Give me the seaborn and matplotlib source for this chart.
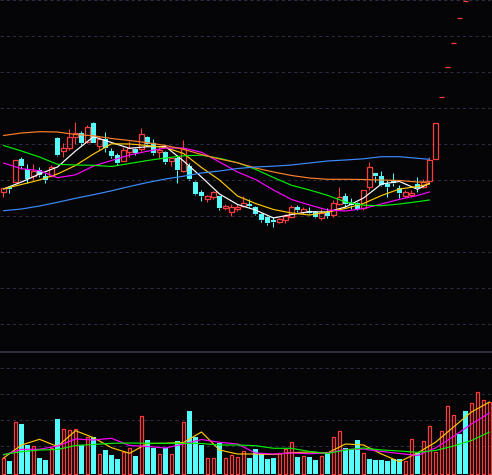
import pandas as pd
import matplotlib
matplotlib.use("Agg")
import matplotlib.pyplot as plt
import seaborn as sns

# daily candles (price in cents-like units), index = trading day
opens = [168, 173.5, 178, 201, 191, 184, 190, 184.5, 184, 222,
         209.5, 212, 223.3, 226.7, 217.7, 237, 214.5, 221, 209, 205,
         199.3, 208.5, 211.3, 211.5, 223, 217, 207.7, 208, 199.3, 202,
         189, 194, 178, 168, 161, 163, 164, 152, 148, 151,
         154, 156, 153, 146, 143, 140.5, 138.5, 140, 143, 153,
         148.5, 149.5, 148, 142, 148.5, 145, 156, 164, 157, 157,
         152, 173, 187, 184, 176, 180, 172, 164, 165, 176,
         173, 179, 201, 263, 293, 317, 342, 359.5, 386, 412,
         440, 468]
highs = [172, 174.5, 200, 203, 196, 196, 193, 187, 195, 223,
         217, 231.5, 238, 229, 235, 238.3, 224, 228, 212.3, 207,
         213.3, 219.5, 212, 232, 224.5, 221, 213.5, 209.5, 203, 205,
         220, 197, 179, 170, 165, 169, 164, 156.5, 156, 156,
         164, 161.5, 154, 147, 144, 142.7, 142, 146, 155, 155,
         153.5, 153, 149, 151.5, 152, 160, 173, 167, 162, 158.5,
         170, 198, 187, 189, 180, 187, 175, 170, 170, 183,
         181, 203, 237, 263, 293, 317, 342, 359.5, 386, 412,
         440, 468]
lows = [163, 167, 178, 191, 177, 180, 183, 177, 184, 204,
        203.5, 210, 216, 215, 216.7, 216.7, 210, 208, 202.3, 195,
        199.3, 203.5, 205, 209.5, 214, 205, 202, 196.5, 194, 177,
        188.3, 180, 165, 159, 158, 161, 150, 150, 144, 149,
        153, 153, 145, 138, 135.5, 133.3, 137, 137.5, 142, 148,
        146.5, 146.5, 142.5, 140, 142.5, 143, 155, 153, 151, 150,
        150, 170, 178, 174, 163, 174, 162, 163, 163, 168,
        172, 178, 201, 263, 293, 317, 342, 359.5, 386, 412,
        440, 468]
closes = [172, 171, 200, 194, 181, 189, 185.5, 180, 193, 205,
          211.7, 223, 226.7, 217, 232.7, 217.3, 221.5, 212, 204.3, 196.7,
          210, 211.7, 207.3, 226, 216, 207.3, 210, 198, 202, 190,
          211, 181, 166, 164, 164, 168, 152, 154.5, 153, 153,
          157, 154, 146, 140, 137, 138.3, 141, 144.5, 153, 150,
          151, 147.3, 143.5, 147.5, 144.5, 157, 163, 156, 155, 151,
          170, 193, 184, 175, 173, 177, 167, 168, 167, 172,
          178, 200, 237, 263, 293, 317, 342, 359.5, 386, 412,
          440, 468]

volumes = [15.7, 13, 51.7, 50, 29, 27.7, 16, 14, 25.7, 55,
           44.7, 43.7, 44.7, 28.7, 36.7, 37.3, 19.7, 24, 19, 15,
           21.7, 26, 18, 58, 34, 25.7, 20, 25.7, 20, 33,
           52, 63, 36.7, 29, 15.7, 15.7, 31.3, 15.7, 19, 16.7,
           23.3, 16.3, 25, 20.7, 15, 16.3, 20.7, 25, 32, 17,
           18, 17, 14, 18, 22, 36.7, 42.7, 25.7, 24.7, 34,
           20.7, 15, 14, 14, 13, 15, 15, 13, 34.7, 21.3,
           32.7, 48, 22, 42.7, 67.7, 59, 40, 63, 70.7, 81.7,
           73.7, 71.7]
vol_up = [1, 0, 1, 0, 0, 1, 0, 0, 1, 0,
          1, 1, 1, 0, 1, 0, 1, 0, 0, 0,
          1, 1, 0, 1, 0, 0, 1, 0, 1, 0,
          1, 0, 0, 0, 1, 1, 0, 1, 1, 1,
          1, 0, 0, 0, 0, 0, 1, 1, 1, 0,
          1, 0, 0, 1, 0, 1, 1, 0, 0, 0,
          1, 0, 0, 0, 0, 0, 0, 1, 1, 0,
          1, 1, 1, 1, 1, 1, 0, 0, 1, 1,
          1, 1]

# moving averages, every third day
ma_days = [0, 3, 6, 9, 12, 15, 18, 21, 24, 27, 30, 33, 36, 39, 42, 45,
           48, 51, 54, 57, 60, 63, 66, 69, 71]
ma5 = [171, 178, 186, 193, 209, 223.3, 217.5, 211.7, 213.3, 213.5, 199, 183, 166,
       155.5, 150, 142, 145.5, 148.3, 148, 153, 162, 176, 178.5, 170.7, 176.7]
ma10 = [171.2, 175.5, 180, 186, 194.5, 206, 216.2, 216, 214.5, 212.5, 206.5, 192.5, 180,
        164, 156.5, 150.5, 147, 145, 148, 151.5, 156.5, 164.5, 171, 173.5, 176]
ma20 = [197, 191.3, 189.3, 182.3, 185.2, 194, 199.5, 205, 208.8, 212, 212, 207.7, 198,
        188, 180.5, 170, 160.5, 155, 150, 149, 151.5, 156, 160.7, 164.5, 168]
ma30 = [214.5, 209, 203, 195.7, 195, 194.7, 193.5, 196.5, 199.5, 202, 204.2, 204.8, 201.7,
        197.3, 190.7, 182.5, 174.7, 170, 164.7, 158, 154.8, 154.3, 156, 158.3, 160]
ma60 = [224.5, 227, 228.3, 228, 225.5, 224.2, 221.5, 219.5, 217.3, 214.5, 210.7, 205.5, 201,
        197.2, 192, 188, 184.5, 182, 180.7, 180.7, 180.5, 180, 179.5, 178, 178]
ma120 = [149.3, 151, 154, 157.7, 161.7, 165.3, 169.2, 173.5, 177.5, 181, 183.8, 187, 189,
         191.5, 193, 193.8, 195, 197, 199, 200, 201.2, 203.3, 203.3, 201.7, 200.7]

vol_ma_days = [0, 3, 6, 9, 12, 15, 18, 21, 24, 27, 30, 33, 36, 39, 42, 45,
               48, 51, 54, 57, 60, 63, 66, 69, 72, 75, 78, 81]
vol_ma5 = [16, 29, 34.7, 27.5, 43.3, 36.3, 26.3, 20.7, 30.5, 30.7, 31.5, 42, 24, 20,
           20, 19.5, 21.3, 22, 21, 30, 29, 20, 12.3, 21, 31.7, 47, 62, 72]
vol_ma10 = [19, 24.7, 24.7, 28, 35, 34, 35.7, 28.5, 27.5, 26, 30, 34.5, 31.7, 30,
            21, 20, 21, 20.3, 21, 24.5, 25, 22.5, 20.5, 18.5, 26, 37.5, 50, 61]
vol_ma20 = [19.5, 22.3, 24, 24.5, 28.5, 29.5, 30.7, 31, 30.7, 30.7, 30.7, 30.5, 29, 29,
            28.3, 25.7, 25.7, 22.5, 20.5, 24, 26, 24, 23, 21.7, 23.5, 28, 33.5, 42]

bg = "#050507"
grid_c = "#2a3042"
red = "#ff3c3c"
cyan = "#54fcfc"

sns.set_theme(style="dark", rc={"axes.facecolor": bg, "figure.facecolor": bg})

fig = plt.figure(figsize=(4.92, 4.75), dpi=100)
ax = fig.add_axes([0, 125 / 475, 1, 350 / 475])
axv = fig.add_axes([0, 0, 1, 123.5 / 475])

days = list(range(len(opens)))
xlim = (-0.583, 81.417)

# price panel
up = [c >= o for o, c in zip(opens, closes)]
ccol = [red if u else cyan for u in up]
body_lo = [min(o, c) for o, c in zip(opens, closes)]
body_hi = [max(o, c) for o, c in zip(opens, closes)]

ax.vlines(days, lows, body_lo, colors=ccol, linewidth=0.75, zorder=3)
ax.vlines(days, body_hi, highs, colors=ccol, linewidth=0.75, zorder=3)
up_days = [d for d in days if up[d]]
dn_days = [d for d in days if not up[d]]
ax.bar(up_days, [closes[d] - opens[d] for d in up_days], bottom=[opens[d] for d in up_days],
       width=0.68, facecolor="none", edgecolor=red, linewidth=0.9, zorder=3)
ax.bar(dn_days, [opens[d] - closes[d] for d in dn_days], bottom=[closes[d] for d in dn_days],
       width=0.8, color=cyan, linewidth=0, zorder=3)

ma_df = pd.concat([
    pd.DataFrame({"day": ma_days, "value": vals, "line": name})
    for name, vals in [("MA5", ma5), ("MA10", ma10), ("MA20", ma20),
                       ("MA30", ma30), ("MA60", ma60), ("MA120", ma120)]
])
ma_colors = {"MA5": "#ffffff", "MA10": "#ffc800", "MA20": "#ff00ff",
             "MA30": "#00f000", "MA60": "#ff7f2a", "MA120": "#3d8bff"}
sns.lineplot(data=ma_df, x="day", y="value", hue="line", palette=ma_colors,
             ax=ax, legend=False, linewidth=0.85, zorder=4)

ax.set_xlim(*xlim)
ax.set_ylim(10, 360)
ax.set_yticks(range(36, 361, 36))
ax.yaxis.grid(True, color=grid_c, linestyle=(0, (3, 3)), linewidth=0.75)
ax.xaxis.grid(False)
ax.tick_params(length=0, labelleft=False, labelbottom=False)
ax.set_xlabel("")
ax.set_ylabel("")
for s in ax.spines.values():
    s.set_visible(False)

# volume panel
vu = [d for d in days if vol_up[d]]
vd = [d for d in days if not vol_up[d]]
axv.bar(vu, [volumes[d] for d in vu], width=0.6, facecolor="none",
        edgecolor=red, linewidth=0.9, zorder=3)
axv.bar(vd, [volumes[d] for d in vd], width=0.68, color=cyan, linewidth=0, zorder=3)

vol_df = pd.concat([
    pd.DataFrame({"day": vol_ma_days, "value": vals, "line": name})
    for name, vals in [("V5", vol_ma5), ("V10", vol_ma10), ("V20", vol_ma20)]
])
sns.lineplot(data=vol_df, x="day", y="value", hue="line",
             palette={"V5": "#ffc800", "V10": "#ff00ff", "V20": "#00f000"},
             ax=axv, legend=False, linewidth=0.85, zorder=4)

axv.set_xlim(*xlim)
axv.set_ylim(-1, 122.5)
axv.set_yticks([28, 54, 80, 106])
axv.yaxis.grid(True, color=grid_c, linestyle=(0, (3, 3)), linewidth=0.75)
axv.xaxis.grid(False)
axv.tick_params(length=0, labelleft=False, labelbottom=False)
axv.set_xlabel("")
axv.set_ylabel("")
for name, s in axv.spines.items():
    s.set_visible(name == "top")
axv.spines["top"].set_color("#2c303c")
axv.spines["top"].set_linewidth(1.5)

fig.savefig("out.png", dpi=100, facecolor=bg)
